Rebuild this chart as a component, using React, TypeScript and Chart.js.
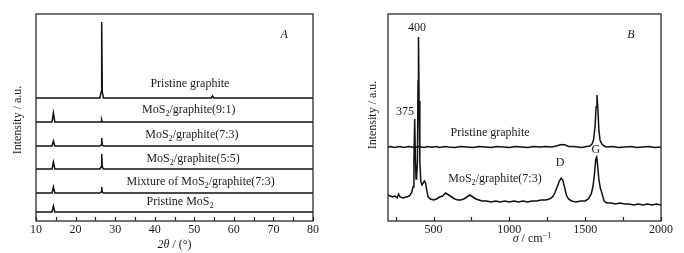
import React, { useEffect, useRef } from "react";
import { Chart, registerables } from "chart.js";

Chart.register(...registerables);

const FONT = '"Liberation Serif", "DejaVu Serif", serif';

// ---------- Panel A: XRD ----------
const TWO_THETA = [10, 14.05, 14.4, 14.75, 26.15, 26.45, 26.6, 26.75, 27.05, 54.3, 54.6, 54.9, 80];
const XRD_GRAPHITE = [0, 0, 0, 0, 0, 6, 76, 6, 0, 0, 2, 0, 0];
const XRD_91 = [0, 0, 9, 0, 0, 0, 2, 0, 0, 0, 0, 0, 0];
const XRD_73 = [0, 0, 5, 0, 0, 1, 8, 1, 0, 0, 0, 0, 0];
const XRD_55 = [0, 0, 7, 0, 0, 2, 15, 2, 0, 0, 0, 0, 0];
const XRD_MIX = [0, 0, 6, 0, 0, 1, 6, 1, 0, 0, 0, 0, 0];
const XRD_MOS2 = [0, 0, 6, 0, 0, 0, 0, 0, 0, 0, 0, 0, 0];
const XRD_SERIES = [XRD_GRAPHITE, XRD_91, XRD_73, XRD_55, XRD_MIX, XRD_MOS2];
const XRD_OFFSETS = [123, 99, 75, 52, 28, 9];
const TICKS_A = [10, 20, 30, 40, 50, 60, 70, 80];
const MINOR_A = [15, 25, 35, 45, 55, 65, 75];

// ---------- Panel B: Raman ----------
const RAMAN_G_X = [200, 220, 240, 260, 280, 300, 320, 340, 360, 380, 400, 420, 440, 460, 480, 500, 520, 540, 560, 580, 600, 640, 680, 720, 760, 800, 840, 880, 920, 960, 1000, 1040, 1080, 1120, 1160, 1200, 1240, 1280, 1310, 1330, 1350, 1370, 1390, 1420, 1450, 1480, 1510, 1530, 1545, 1555, 1565, 1572, 1578, 1584, 1590, 1598, 1610, 1625, 1640, 1680, 1720, 1760, 1800, 1840, 1880, 1920, 1960, 2000];
const RAMAN_G_Y = [0, 0.5, -0.5, 0, 0.5, -0.5, 0, 0.5, 0, -0.5, 0.5, 0, -0.5, 0.5, 0, 0, 0.5, -0.5, 0, 0.5, 0, -0.5, 0.5, 0, -0.5, 0.5, 0, -0.5, 0.5, 0, -0.5, 0.5, 0, -0.5, 0.5, 0, 0.5, 0, 1, 2, 2.5, 2, 0.5, 0.5, 0, -0.5, 0.5, 1, 3, 7, 20, 40, 52, 38, 18, 7, 3, 1, 0, 0.5, -0.5, 0, 0.5, -0.5, 0, 0.5, -0.5, 0];
const RAMAN_G_OFFSET = 74;

const RAMAN_M_X = [200, 215, 230, 245, 260, 270, 280, 300, 320, 340, 355, 365, 371, 376, 381, 385, 389, 394, 398, 401, 405, 410, 416, 424, 432, 440, 448, 456, 465, 480, 500, 520, 540, 560, 580, 600, 620, 640, 660, 680, 700, 720, 740, 760, 780, 800, 820, 850, 880, 910, 940, 970, 1000, 1030, 1060, 1090, 1120, 1150, 1180, 1210, 1240, 1265, 1285, 1300, 1315, 1330, 1342, 1352, 1364, 1376, 1390, 1410, 1440, 1470, 1500, 1520, 1540, 1552, 1562, 1570, 1576, 1582, 1590, 1600, 1612, 1625, 1640, 1670, 1700, 1730, 1760, 1790, 1820, 1850, 1880, 1910, 1940, 1970, 2000];
const RAMAN_M_Y = [26, 25, 24, 25, 23, 27, 24, 23, 24, 25, 28, 34, 60, 102, 60, 42, 44, 60, 140, 184, 120, 60, 40, 36, 38, 40, 38, 30, 24, 22, 21, 22, 24, 25, 28, 26, 24, 22, 21, 21, 22, 24, 26, 24, 22, 21, 20, 20, 19, 20, 19, 20, 19, 20, 19, 20, 19, 20, 20, 21, 21, 22, 24, 28, 34, 40, 43, 41, 34, 26, 22, 20, 19, 20, 20, 22, 27, 35, 48, 62, 64, 56, 42, 33, 27, 20, 18, 18, 17, 18, 17, 17, 16, 17, 16, 17, 16, 17, 16];
const RAMAN_M_OFFSET = 0;
const TICKS_B = [500, 1000, 1500, 2000];
const MINOR_B = [250, 750, 1250, 1750];

type Seg = { t: string; it?: boolean; sub?: boolean; sup?: boolean };
type Ann = { segs: Seg[]; x: number; y: number; size?: number };

function segFont(s: Seg, size: number) {
  const sz = s.sub || s.sup ? size * 0.68 : size;
  return `${s.it ? "italic " : ""}${sz}px ${FONT}`;
}

function drawRich(ctx: CanvasRenderingContext2D, segs: Seg[], cx: number, cy: number, size: number) {
  let w = 0;
  for (const s of segs) {
    ctx.font = segFont(s, size);
    w += ctx.measureText(s.t).width;
  }
  let x = cx - w / 2;
  ctx.textBaseline = "middle";
  ctx.textAlign = "left";
  for (const s of segs) {
    ctx.font = segFont(s, size);
    const dy = s.sub ? size * 0.3 : s.sup ? -size * 0.3 : 0;
    ctx.fillText(s.t, x, cy + dy);
    x += ctx.measureText(s.t).width;
  }
}

const mos = (rest: string): Seg[] => [{ t: "MoS" }, { t: "2", sub: true }, { t: rest }];

function makeDecor(cfg: {
  major: number[];
  minor: number[];
  anns: Ann[];
  xTitle: { segs: Seg[]; x: number; dy: number };
  yTitle: { dx: number; y: number };
}) {
  return {
    id: "decor",
    afterDraw(chart: any) {
      const ctx: CanvasRenderingContext2D = chart.ctx;
      const a = chart.chartArea;
      const xs = chart.scales.x;
      const ys = chart.scales.y;
      ctx.save();
      ctx.strokeStyle = "#2a2a2a";
      ctx.lineWidth = 1.3;
      ctx.strokeRect(a.left, a.top, a.right - a.left, a.bottom - a.top);
      ctx.lineWidth = 1.2;
      for (const v of [...cfg.major, ...cfg.minor]) {
        const px = Math.round(xs.getPixelForValue(v)) + 0.5;
        ctx.beginPath();
        ctx.moveTo(px, a.bottom);
        ctx.lineTo(px, a.bottom - 4);
        ctx.stroke();
      }
      ctx.fillStyle = "#1a1a1a";
      for (const an of cfg.anns) {
        drawRich(ctx, an.segs, xs.getPixelForValue(an.x), ys.getPixelForValue(an.y), an.size ?? 12);
      }
      drawRich(ctx, cfg.xTitle.segs, xs.getPixelForValue(cfg.xTitle.x), a.bottom + cfg.xTitle.dy, 12);
      ctx.save();
      ctx.translate(a.left + cfg.yTitle.dx, cfg.yTitle.y);
      ctx.rotate(-Math.PI / 2);
      drawRich(ctx, [{ t: "Intensity / a.u." }], 0, 0, 12);
      ctx.restore();
      ctx.restore();
    },
  };
}

function lineDs(xs: number[], ys: number[], off: number) {
  return {
    data: xs.map((x, i) => ({ x, y: ys[i] + off })),
    borderColor: "#111",
    borderWidth: 1.5,
    pointRadius: 0,
    tension: 0,
    fill: false,
  };
}

function baseOptions(min: number, max: number, ticks: number[], pad: any, xH: number) {
  return {
    animation: false,
    responsive: false,
    events: [],
    layout: { padding: pad },
    plugins: { legend: { display: false }, tooltip: { enabled: false } },
    scales: {
      x: {
        type: "linear",
        min,
        max,
        grid: { display: false, drawTicks: false },
        border: { display: false },
        ticks: {
          padding: 2,
          color: "#1a1a1a",
          font: { family: FONT, size: 12 },
          maxRotation: 0,
          callback: (v: any) => String(v),
        },
        afterBuildTicks: (s: any) => {
          s.ticks = ticks.map((v) => ({ value: v }));
        },
        afterFit: (s: any) => {
          s.height = xH;
        },
      },
      y: { display: false, min: 0, max: 207 },
    },
  };
}

function Panel({ kind }: { kind: "A" | "B" }) {
  const ref = useRef<HTMLCanvasElement>(null);
  useEffect(() => {
    let chart: Chart;
    if (kind === "A") {
      chart = new Chart(ref.current!, {
        type: "line",
        data: { datasets: XRD_SERIES.map((s, i) => lineDs(TWO_THETA, s, XRD_OFFSETS[i])) as any },
        options: baseOptions(10, 80, TICKS_A, { left: 36, right: 29, top: 14, bottom: 0 }, 32) as any,
        plugins: [
          makeDecor({
            major: TICKS_A,
            minor: MINOR_A,
            anns: [
              { segs: [{ t: "Pristine graphite" }], x: 48.9, y: 137 },
              { segs: mos("/graphite(9:1)"), x: 48.6, y: 111 },
              { segs: mos("/graphite(7:3)"), x: 49.4, y: 86 },
              { segs: mos("/graphite(5:5)"), x: 49.7, y: 62 },
              { segs: [{ t: "Mixture of MoS" }, { t: "2", sub: true }, { t: "/graphite(7:3)" }], x: 51.6, y: 39 },
              { segs: [{ t: "Pristine MoS" }, { t: "2", sub: true }], x: 46.4, y: 19 },
              { segs: [{ t: "A", it: true }], x: 72.7, y: 186 },
            ],
            xTitle: { segs: [{ t: "2", it: true }, { t: "θ", it: true }, { t: " / (°)" }], x: 45, dy: 24 },
            yTitle: { dx: -18, y: 120 },
          }),
        ],
      });
    } else {
      chart = new Chart(ref.current!, {
        type: "line",
        data: {
          datasets: [
            lineDs(RAMAN_G_X, RAMAN_G_Y, RAMAN_G_OFFSET),
            lineDs(RAMAN_M_X, RAMAN_M_Y, RAMAN_M_OFFSET),
          ] as any,
        },
        options: baseOptions(200, 2000, TICKS_B, { left: 46, right: 23, top: 14, bottom: 0 }, 32) as any,
        plugins: [
          makeDecor({
            major: TICKS_B,
            minor: MINOR_B,
            anns: [
              { segs: [{ t: "400" }], x: 391, y: 193 },
              { segs: [{ t: "375" }], x: 312, y: 109 },
              { segs: [{ t: "Pristine graphite" }], x: 873, y: 88 },
              { segs: mos("/graphite(7:3)"), x: 905, y: 42 },
              { segs: [{ t: "D" }], x: 1334, y: 58 },
              { segs: [{ t: "G" }], x: 1571, y: 71 },
              { segs: [{ t: "B", it: true }], x: 1802, y: 186 },
            ],
            xTitle: { segs: [{ t: "σ", it: true }, { t: " / cm" }, { t: "−1", sup: true }], x: 1149, dy: 18 },
            yTitle: { dx: -15, y: 115 },
          }),
        ],
      });
    }
    return () => chart.destroy();
  }, [kind]);
  return <canvas ref={ref} width={342} height={253} style={{ display: "block", width: 342, height: 253 }} />;
}

export default function App() {
  return (
    <div style={{ position: "fixed", left: 0, top: 0, width: 684, height: 253, background: "#fff", display: "flex" }}>
      <Panel kind="A" />
      <Panel kind="B" />
    </div>
  );
}
